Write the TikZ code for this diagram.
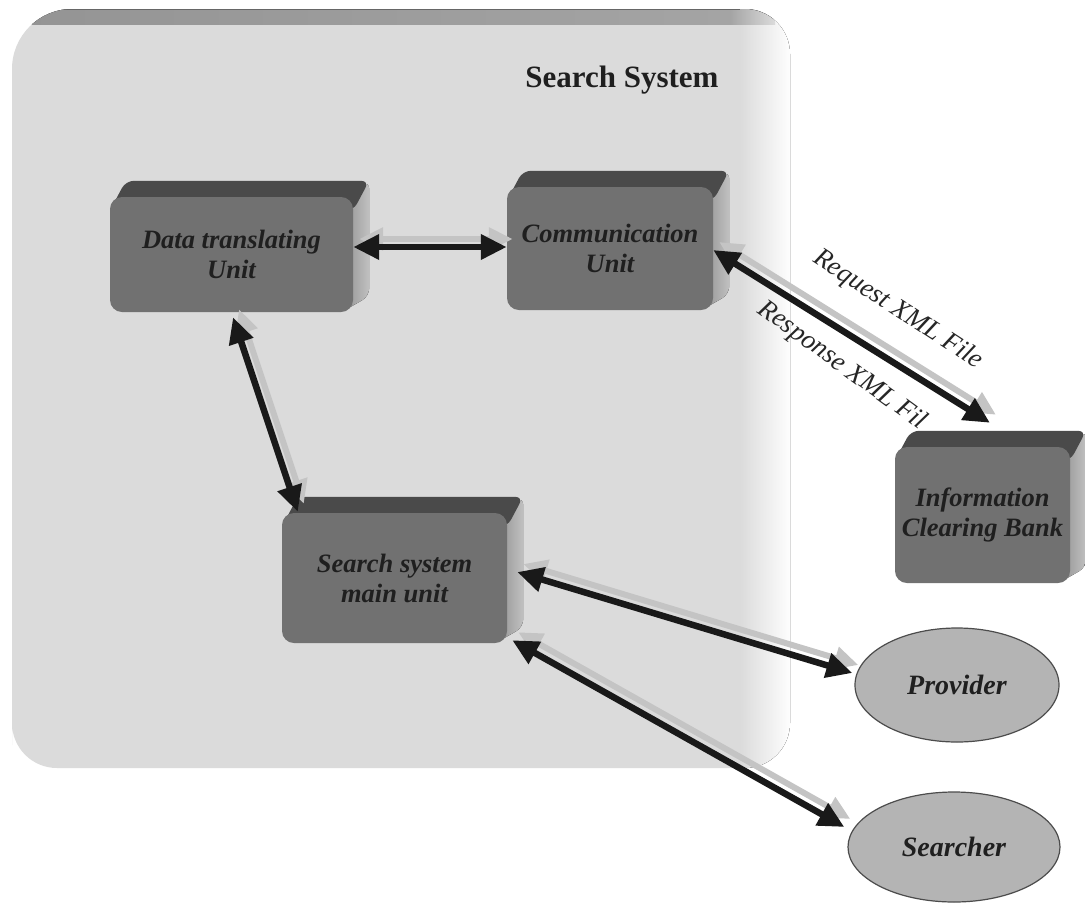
\documentclass[tikz,border=0pt]{standalone}
\usepackage{fontspec}
\setmainfont{Liberation Serif}
\usetikzlibrary{arrows.meta,calc,shapes.geometric}
\definecolor{panelgray}{HTML}{DBDBDB}
\definecolor{bandgray}{HTML}{A4A4A4}
\definecolor{facegray}{HTML}{717171}
\definecolor{topgray}{HTML}{4A4A4A}
\definecolor{sidegray}{HTML}{A6A6A6}
\definecolor{ellgray}{HTML}{B4B4B4}
\definecolor{shadowgray}{HTML}{C4C4C4}
\pgfdeclarelayer{bg}
\pgfdeclarelayer{bevel}
\pgfsetlayers{bg,bevel,main}
\begin{document}
\begin{tikzpicture}[x=1pt,y=-1pt,
  boxface/.style={rectangle, rounded corners=12pt, fill=facegray, inner sep=0pt,
    align=center, font=\fontsize{26.5}{30}\selectfont\bfseries\itshape, text=black!88},
  ellface/.style={ellipse, fill=ellgray, draw=black!70, line width=1.2pt, inner sep=0pt,
    font=\fontsize{28}{32}\selectfont\bfseries\itshape, text=black!88},
  toplab/.style={font=\fontsize{27}{30}\selectfont\itshape, text=black!85},
  dblarrow/.style={line width=6.5pt, draw=black!90,
    {Triangle[length=26pt,width=24pt]}-{Triangle[length=26pt,width=24pt]}},
  shadowarrow/.style={line width=6pt, draw=shadowgray, transform canvas={xshift=6pt,yshift=8pt},
    {Triangle[length=24pt,width=22pt]}-{Triangle[length=24pt,width=22pt]}},
  bevtop/.style={fill=topgray, rounded corners=8pt},
  bevside/.style={left color=sidegray!85!black, right color=sidegray!70, rounded corners=8pt}]
\useasboundingbox (0,0) rectangle (1085,903);

% background panel
\begin{pgfonlayer}{bg}
\fill[white] (0,0) rectangle (1085,903);
\begin{scope}
\clip (12,700) [rounded corners=60pt] -- (12,9) [rounded corners=45pt] -- (790,9) -- (790,768) -- (12,768) -- cycle;
\fill[panelgray] (0,0) rectangle (800,800);
\fill[left color=panelgray, right color=white] (740,0) rectangle (792,800);
\fill[left color=bandgray!90!black, right color=bandgray, middle color=bandgray!95!black] (0,0) rectangle (730,24);
\fill[left color=bandgray, right color=panelgray] (730,0) rectangle (775,24);
\draw[black!60, line width=1.2pt] (0,9.6) -- (740,9.6);
\end{scope}
\end{pgfonlayer}

\node[font=\fontsize{31}{34}\selectfont\bfseries, text=black!88] (title) at (622,80) {Search System};

% boxes (front faces)
\node[boxface, minimum width=243pt, minimum height=115pt] (dtu) at (231.5,254.5) {Data translating\\Unit};
\node[boxface, minimum width=206pt, minimum height=123pt] (comm) at (610,248.5) {Communication\\Unit};
\node[boxface, minimum width=175pt, minimum height=136pt] (icb) at (982.5,515) {Information\\Clearing Bank};
\node[boxface, minimum width=225pt, minimum height=130pt] (main) at (394.5,578) {Search system\\main unit};

% ellipses
\node[ellface, minimum width=204pt, minimum height=114pt] (prov) at (957,685) {Provider};
\node[ellface, minimum width=212pt, minimum height=110pt] (srch) at (954,847) {Searcher};

% bevels
\begin{pgfonlayer}{bevel}
\foreach \b in {dtu,comm,icb,main}{
  \fill[bevside] ($(\b.north east)+(-12,0)$) -- ($(\b.north east)+(16,-16)$) -- ($(\b.south east)+(16,-16)$) -- ($(\b.south east)+(-12,0)$) -- cycle;
  \fill[bevtop] ($(\b.north west)+(0,14)$) -- ($(\b.north west)+(16,-16)$) -- ($(\b.north east)+(16,-16)$) -- ($(\b.north east)+(0,14)$) -- cycle;
}
\end{pgfonlayer}

% arrows: shadows
\draw[shadowarrow] ($(dtu.east)+(0,-7.5)$) -- ($(comm.west)+(0,-1.5)$);
\draw[shadowarrow] ($(dtu.south)+(1.5,5)$) -- ($(main.north west)+(16,-1)$);
\draw[shadowarrow] ($(comm.east)+(0,1.5)$) -- ($(icb.north)+(7.5,-24)$);
\draw[shadowarrow] ($(main.east)+(10,-6)$) -- ($(prov.west)+(-2,-12)$);
\draw[shadowarrow] ($(main.south east)+(5,-3)$) -- ($(srch.west)+(-3,-20)$);
% arrows: dark
\draw[dblarrow] ($(dtu.east)+(0,-7.5)$) -- ($(comm.west)+(0,-1.5)$);
\draw[dblarrow] ($(dtu.south)+(1.5,5)$) -- ($(main.north west)+(16,-1)$);
\draw[dblarrow] ($(comm.east)+(0,1.5)$) -- ($(icb.north)+(7.5,-24)$);
\draw[dblarrow] ($(main.east)+(10,-6)$) -- ($(prov.west)+(-2,-12)$);
\draw[dblarrow] ($(main.south east)+(5,-3)$) -- ($(srch.west)+(-3,-20)$);

% arrow labels
\node[toplab, rotate=-33] (req) at (898,310) {Request XML File};
\node[toplab, rotate=-36] (resp) at (842,366) {Response XML Fil};
\end{tikzpicture}
\end{document}
